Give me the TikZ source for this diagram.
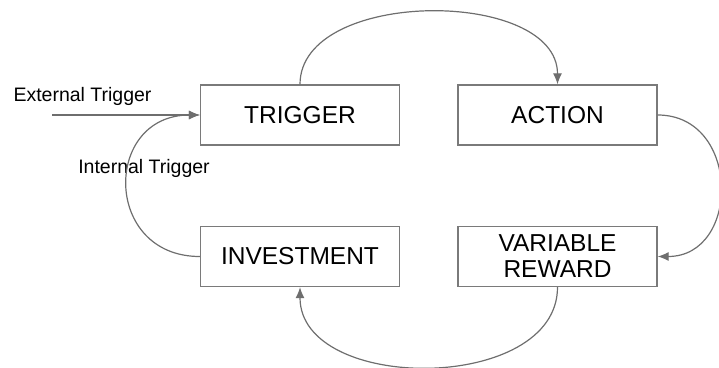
\documentclass[tikz,border=0pt]{standalone}
\usepackage{fontspec}
\setmainfont{Liberation Sans}
\usepackage{tikz}
\usetikzlibrary{arrows.meta,positioning}

\definecolor{linegray}{HTML}{6E6E6E}
\definecolor{boxgray}{HTML}{7A7A7A}

\tikzset{
  phase/.style={draw=boxgray, line width=1.3pt, minimum width=199pt, minimum height=60pt,
    inner sep=0pt, align=center, font=\fontsize{24.5}{28}\selectfont},
  lbl/.style={font=\fontsize{19.5}{22}\selectfont, inner sep=0pt},
  flow/.style={draw=linegray, line width=1.2pt, -{Latex[length=11pt,width=9pt]}}
}

\begin{document}
\begin{tikzpicture}[x=1pt,y=-1pt,node distance=1pt,on grid]
   \useasboundingbox (0,0) rectangle (719,367);

   \node[phase] (trigger) at (300,115) {TRIGGER};
   \node[phase] (action) [right=257.5pt of trigger] {ACTION};
   \node[phase] (invest) [below=141.5pt of trigger] {INVESTMENT};
   \node[phase] (reward) [below=141.5pt of action] {VARIABLE\\[-2pt]REWARD};

   \coordinate (ext) at (52,115);
   \node[lbl] (extlbl) at (82.5,96) {External Trigger};
   \node[lbl] (intlbl) at (144,168) {Internal Trigger};

   \path[every edge/.style={flow}]
    (ext) edge (trigger)
    (trigger) edge [out=90,in=90,looseness=0.96] (action)
    (action) edge [out=0,in=0,looseness=1.51] (reward)
    (reward) edge [out=-90,in=-90,looseness=1.06] (invest)
    (invest) edge [out=180,in=180,looseness=1.76] (trigger);
\end{tikzpicture}
\end{document}
